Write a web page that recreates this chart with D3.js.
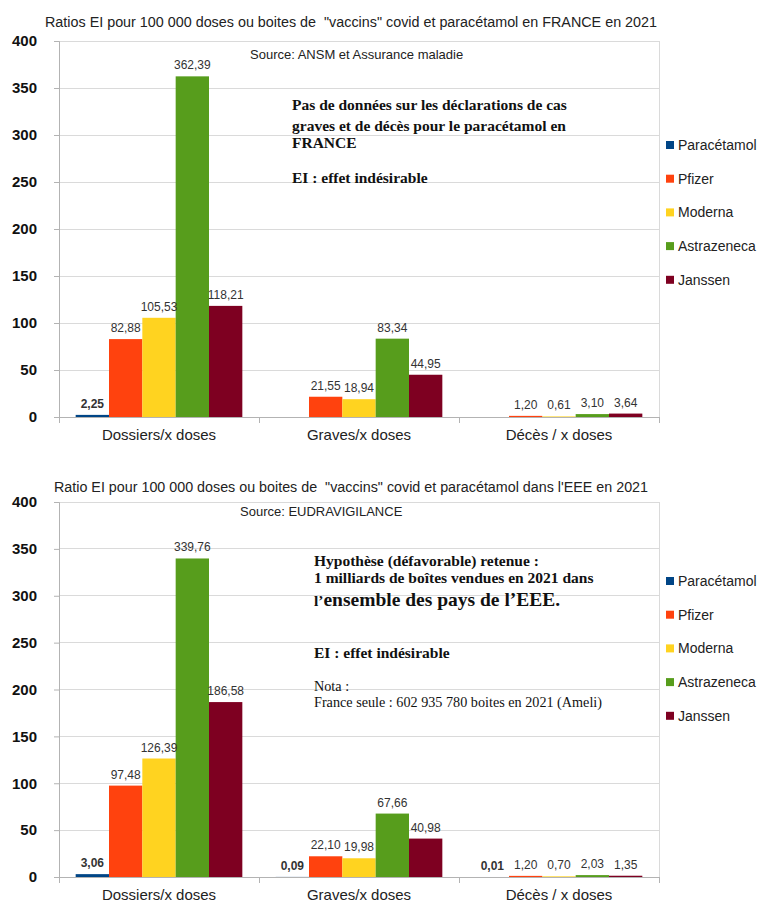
<!DOCTYPE html>
<html>
<head>
<meta charset="utf-8">
<script src="https://cdn.jsdelivr.net/npm/d3@7"></script>
<style>
body{margin:0;background:#fff;}
svg{display:block;}
</style>
</head>
<body>
<svg id="c" width="766" height="919"></svg>
<script>
const categories = ["Dossiers/x doses", "Graves/x doses", "Décès / x doses"];
const seriesNames = ["Paracétamol", "Pfizer", "Moderna", "Astrazeneca", "Janssen"];
const seriesColors = ["#004586", "#ff420e", "#ffd320", "#579d1c", "#7e0021"];
const yTicks = [0, 50, 100, 150, 200, 250, 300, 350, 400];

// Chart 1: France
const franceParacetamol = [2.25, null, null];
const francePfizer = [82.88, 21.55, 1.20];
const franceModerna = [105.53, 18.94, 0.61];
const franceAstrazeneca = [362.39, 83.34, 3.10];
const franceJanssen = [118.21, 44.95, 3.64];

// Chart 2: EEE
const eeeParacetamol = [3.06, 0.09, 0.01];
const eeePfizer = [97.48, 22.10, 1.20];
const eeeModerna = [126.39, 19.98, 0.70];
const eeeAstrazeneca = [339.76, 67.66, 2.03];
const eeeJanssen = [186.58, 40.98, 1.35];

const title1 = 'Ratios EI pour 100 000 doses ou boites de\u00a0\u00a0"vaccins" covid et paracétamol en FRANCE en 2021';
const title2 = 'Ratio EI pour 100 000 doses ou boites de\u00a0\u00a0"vaccins" covid et paracétamol dans l\'EEE en 2021';
const source1 = "Source: ANSM et Assurance maladie";
const source2 = "Source: EUDRAVIGILANCE";

const svg = d3.select("#c");
const fmt = v => v.toFixed(2).replace(".", ",");

function drawChart(cfg) {
  const g = svg.append("g");
  const x = d3.scaleBand().domain(categories).range([59, 659]).paddingInner(0).paddingOuter(0);
  const xs = d3.scaleBand().domain(seriesNames).range([0, x.bandwidth()]).paddingInner(0).paddingOuter(0.5);
  const y = d3.scaleLinear().domain([0, 400]).range([cfg.y0, cfg.yTop]);

  // title
  g.append("text").attr("x", 351).attr("y", cfg.titleY).attr("text-anchor", "middle")
    .attr("font-family", "Liberation Sans, Arial, sans-serif").attr("font-size", 14).attr("fill", "#222")
    .attr("textLength", cfg.titleLen).attr("lengthAdjust", "spacingAndGlyphs")
    .text(cfg.title);

  // grid
  g.append("g").selectAll("line").data(yTicks.filter(d => d > 0)).join("line")
    .attr("x1", 59).attr("x2", 659).attr("y1", d => y(d)).attr("y2", d => y(d))
    .attr("stroke", "#dadada").attr("stroke-width", 1).attr("shape-rendering", "crispEdges");
  // right border
  g.append("line").attr("x1", 659).attr("x2", 659).attr("y1", y(400)).attr("y2", y(0))
    .attr("stroke", "#dadada").attr("shape-rendering", "crispEdges");

  // y axis
  const yAxis = d3.axisLeft(y).tickValues(yTicks).tickSize(5).tickPadding(17).tickFormat(d3.format("d"));
  const ya = g.append("g").attr("transform", "translate(59,0)").call(yAxis);
  ya.select(".domain").attr("stroke", "#b3b3b3");
  ya.selectAll(".tick line").attr("stroke", "#b3b3b3");
  ya.selectAll(".tick text").attr("font-family", "Liberation Sans, Arial, sans-serif")
    .attr("font-size", 15).attr("font-weight", "bold").attr("fill", "#111");

  // x axis
  const xAxis = d3.axisBottom(x).tickSize(0).tickPadding(12);
  const xa = g.append("g").attr("transform", `translate(0,${cfg.y0})`).call(xAxis);
  xa.select(".domain").attr("stroke", "#b3b3b3");
  xa.selectAll(".tick text").attr("font-family", "Liberation Sans, Arial, sans-serif")
    .attr("font-size", 15).attr("fill", "#222");
  // category boundary ticks
  const bounds = [0, 1, 2, 3].map(i => 59 + i * x.bandwidth());
  g.append("g").selectAll("line").data(bounds).join("line")
    .attr("x1", d => d).attr("x2", d => d).attr("y1", cfg.y0).attr("y2", cfg.y0 + 6)
    .attr("stroke", "#b3b3b3").attr("shape-rendering", "crispEdges");

  // bars
  const data = [];
  cfg.series.forEach((arr, si) => arr.forEach((v, ci) => {
    if (v !== null) data.push({s: seriesNames[si], c: categories[ci], v, si});
  }));
  g.append("g").selectAll("rect").data(data).join("rect")
    .attr("x", d => x(d.c) + xs(d.s)).attr("width", xs.bandwidth())
    .attr("y", d => y(d.v)).attr("height", d => Math.max(y(0) - y(d.v), 0))
    .attr("fill", d => seriesColors[d.si]);
  g.append("g").selectAll("text").data(data).join("text")
    .attr("x", d => x(d.c) + xs(d.s) + xs.bandwidth() / 2)
    .attr("y", d => y(d.v) - 7)
    .attr("text-anchor", "middle")
    .attr("font-family", "Liberation Sans, Arial, sans-serif")
    .attr("font-size", 12)
    .attr("font-weight", d => d.si === 0 ? "bold" : "normal")
    .attr("fill", "#333")
    .text(d => fmt(d.v));

  // source
  g.append("text").attr("x", cfg.sourceX).attr("y", cfg.sourceY)
    .attr("font-family", "Liberation Sans, Arial, sans-serif").attr("font-size", 13).attr("fill", "#222")
    .text(cfg.source);

  // legend
  const lg = g.append("g").selectAll("g").data(seriesNames).join("g")
    .attr("transform", (d, i) => `translate(666,${cfg.legendY + i * 33.7})`);
  lg.append("rect").attr("x", 0).attr("y", -4).attr("width", 8).attr("height", 8)
    .attr("fill", (d, i) => seriesColors[i]);
  lg.append("text").attr("x", 12).attr("y", 5)
    .attr("font-family", "Liberation Sans, Arial, sans-serif").attr("font-size", 14).attr("fill", "#222")
    .text(d => d);

  return g;
}

const g1 = drawChart({
  y0: 417, yTop: 41, titleY: 27, titleLen: 612, title: title1,
  series: [franceParacetamol, francePfizer, franceModerna, franceAstrazeneca, franceJanssen],
  source: source1, sourceX: 250, sourceY: 59, legendY: 145
});
const g2 = drawChart({
  y0: 877, yTop: 502, titleY: 492, titleLen: 594, title: title2,
  series: [eeeParacetamol, eeePfizer, eeeModerna, eeeAstrazeneca, eeeJanssen],
  source: source2, sourceX: 240, sourceY: 516, legendY: 581
});

const serif = "Liberation Serif, 'Times New Roman', serif";
function notes(g, lines) {
  lines.forEach(l => {
    const t = g.append("text").attr("x", l.x).attr("y", l.y)
      .attr("font-family", serif).attr("font-size", l.size)
      .attr("font-weight", l.bold ? "bold" : "normal").attr("fill", "#111");
    if (l.parts) {
      l.parts.forEach(p => t.append("tspan").attr("font-size", p.size).text(p.t));
    } else t.text(l.t);
  });
}
notes(g1, [
  {x: 292, y: 110, size: 15.5, bold: true, t: "Pas de données sur les déclarations de cas"},
  {x: 292, y: 131, size: 15.5, bold: true, t: "graves et de décès pour le paracétamol en"},
  {x: 292, y: 148, size: 15.5, bold: true, t: "FRANCE"},
  {x: 292, y: 183, size: 15.5, bold: true, t: "EI : effet indésirable"}
]);
notes(g2, [
  {x: 314, y: 566, size: 15.5, bold: true, t: "Hypothèse (défavorable) retenue :"},
  {x: 314, y: 583, size: 15.5, bold: true, t: "1 milliards de boîtes vendues en 2021 dans"},
  {x: 314, y: 606, size: 19.5, bold: true, parts: [{t: "l’", size: 15.5}, {t: "ensemble des pays de l’EEE.", size: 19.5}]},
  {x: 314, y: 658, size: 15.5, bold: true, t: "EI : effet indésirable"},
  {x: 314, y: 691, size: 14.2, bold: false, t: "Nota :"},
  {x: 314, y: 707, size: 14.2, bold: false, t: "France seule : 602 935 780 boites en 2021 (Ameli)"}
]);
</script>
</body>
</html>
